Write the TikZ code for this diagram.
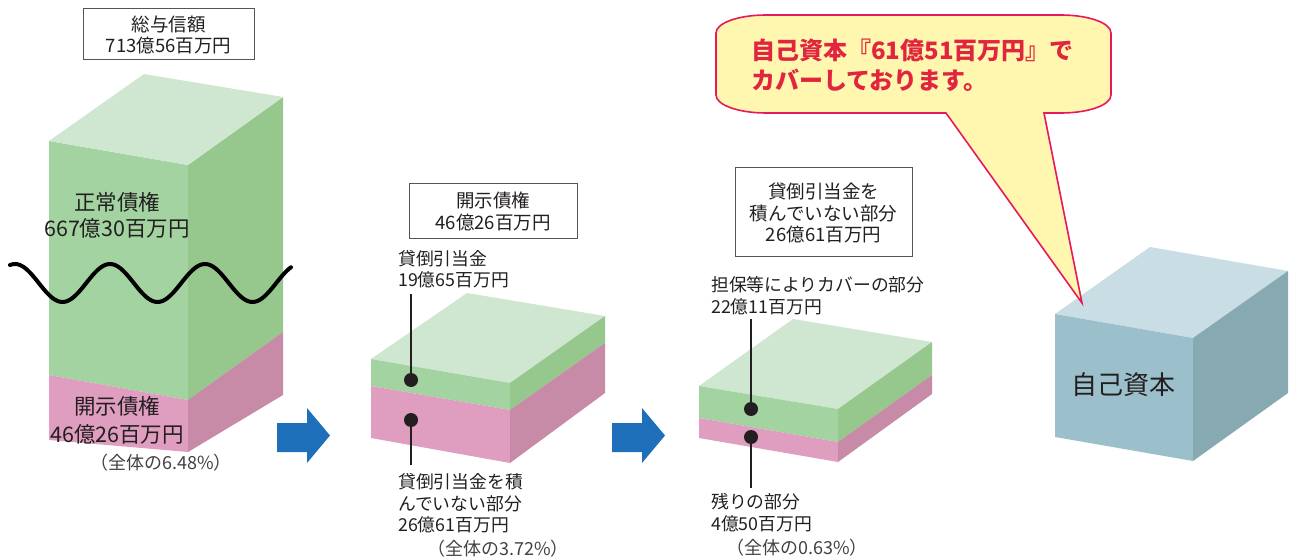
\documentclass[tikz,border=0pt]{standalone}
\usepackage{fontspec}
\setmainfont{Noto Sans CJK JP}
\definecolor{gtopc}{HTML}{CFE7D0}
\definecolor{gfront}{HTML}{A3D3A1}
\definecolor{gright}{HTML}{96C78C}
\definecolor{pfront}{HTML}{DF9EBF}
\definecolor{pright}{HTML}{C78AA7}
\definecolor{btop}{HTML}{C9DEE4}
\definecolor{bfront}{HTML}{9BC0CC}
\definecolor{bright}{HTML}{87A9B1}
\definecolor{ink}{HTML}{231F20}
\definecolor{arrowblue}{HTML}{1E6FB9}
\definecolor{callfill}{HTML}{FFF6B0}
\definecolor{callline}{HTML}{E8185A}
\definecolor{calltext}{HTML}{E2253F}
\definecolor{boxline}{HTML}{555555}
\begin{document}
\begin{tikzpicture}[x=1pt,y=-1pt,
  lbl/.style={font=\fontsize{17.8}{21.5}\selectfont, text=ink, inner sep=0pt, align=left, anchor=west},
  boxtxt/.style={font=\fontsize{18.5}{21.5}\selectfont, text=ink, inner sep=0pt, align=center},
  bigtxt/.style={font=\fontsize{21.5}{26}\selectfont, text=ink, inner sep=0pt, align=center},
  pcttxt/.style={font=\fontsize{18}{20}\selectfont, text=ink!85, inner sep=0pt},
  framebox/.style={draw=boxline, line width=0.9pt, fill=white},
  leader/.style={draw=ink, line width=2pt},
  dotnode/.style={circle, fill=ink, inner sep=0pt, minimum size=14pt},
  bluearrow/.style={fill=arrowblue},
  wave/.style={draw=black, line width=4pt, line cap=round}
]
\useasboundingbox (0,0) rectangle (1299,559);

% ---------- block 1 ----------
\fill[gfront] (49,141) -- (188,165) -- (188,400) -- (49,375) -- cycle;
\fill[gright] (188,165) -- (283,97) -- (283,332) -- (188,400) -- cycle;
\fill[gtopc] (49,141) -- (144,74) -- (283,97) -- (188,165) -- cycle;
\fill[pfront] (49,375) -- (188,400) -- (188,452) -- (49,440) -- cycle;
\fill[pright] (188,400) -- (283,332) -- (283,395) -- (188,452) -- cycle;

\draw[wave] plot[domain=10:291, samples=120, smooth] (\x, {283 - 19*cos((\x-15)/95*360)});

\node[framebox, minimum width=171pt, minimum height=51pt, inner sep=0pt] (box1) at (168.5,33.5) {};
\node[boxtxt] (box1t) at (168.5,35) {総与信額\\713億56百万円};

\node[bigtxt] (normal) at (117,215.5) {正常債権\\667億30百万円};
\node[font=\fontsize{21.5}{27.5}\selectfont, text=ink, inner sep=0pt, align=center] (disc1) at (117,420.5) {開示債権\\46億26百万円};
\node[pcttxt] (pct1) at (161,463) {（全体の6.48\%）};

% ---------- arrows ----------
\fill[bluearrow] (277,423) -- (307,423) -- (307,408) -- (330,435.5) -- (307,463) -- (307,452) -- (277,452) -- cycle;
\fill[bluearrow] (612,423) -- (642,423) -- (642,408) -- (665,435.5) -- (642,463) -- (642,452) -- (612,452) -- cycle;

% ---------- block 2 ----------
\fill[gtopc] (371,359) -- (467,293) -- (605,316) -- (510,383) -- cycle;
\fill[gfront] (371,359) -- (510,383) -- (510,410) -- (371,386) -- cycle;
\fill[gright] (510,383) -- (605,316) -- (605,343) -- (510,410) -- cycle;
\fill[pfront] (371,386) -- (510,410) -- (510,463) -- (371,438) -- cycle;
\fill[pright] (510,410) -- (605,343) -- (605,393) -- (510,463) -- cycle;

\node[framebox, minimum width=168pt, minimum height=55pt, inner sep=0pt] (box2) at (493,210.5) {};
\node[boxtxt] (box2t) at (493,211.5) {開示債権\\46億26百万円};

\node[lbl] (allow) at (398,269) {貸倒引当金\\19億65百万円};
\coordinate (allowend) at (411,294);
\node[dotnode] (dotA) at (411,380) {};
\draw[leader] (allowend) -- (dotA.center);

\node[dotnode] (dotB) at (411,420) {};
\coordinate (unallowend) at (411,465);
\draw[leader] (dotB.center) -- (unallowend);
\node[lbl] (unallow) at (398,503.5) {貸倒引当金を積\\んでいない部分\\26億61百万円};
\node[pcttxt] (pct2) at (498,549) {（全体の3.72\%）};

% ---------- block 3 ----------
\fill[gtopc] (699,386) -- (793,319) -- (932,342) -- (838,409) -- cycle;
\fill[gfront] (699,386) -- (838,409) -- (838,442) -- (699,418) -- cycle;
\fill[gright] (838,409) -- (932,342) -- (932,375) -- (838,442) -- cycle;
\fill[pfront] (699,418) -- (838,442) -- (838,462) -- (699,438) -- cycle;
\fill[pright] (838,442) -- (932,375) -- (932,394) -- (838,462) -- cycle;

\node[framebox, minimum width=177pt, minimum height=89pt, inner sep=0pt] (box3) at (823.5,211.5) {};
\node[boxtxt] (box3t) at (823.5,213) {貸倒引当金を\\積んでいない部分\\26億61百万円};

\node[lbl] (cover) at (711,295.5) {担保等によりカバーの部分\\22億11百万円};
\coordinate (coverend) at (751,319);
\node[dotnode] (dotC) at (751,409) {};
\draw[leader] (coverend) -- (dotC.center);

\node[dotnode] (dotD) at (751,437) {};
\coordinate (restend) at (751,488);
\draw[leader] (dotD.center) -- (restend);
\node[lbl] (rest) at (711,512.5) {残りの部分\\4億50百万円};
\node[pcttxt] (pct3) at (797,548) {（全体の0.63\%）};

% ---------- block 4 ----------
\fill[btop] (1055,314) -- (1150,247) -- (1288,271) -- (1193,338) -- cycle;
\fill[bfront] (1055,314) -- (1193,338) -- (1193,461) -- (1055,437) -- cycle;
\fill[bright] (1193,338) -- (1288,271) -- (1288,393) -- (1193,461) -- cycle;
\node[font=\fontsize{26}{30}\selectfont, text=ink, inner sep=0pt] (equity) at (1123,385) {自己資本};

% ---------- callout ----------
\draw[fill=callfill, draw=callline, line width=1.6pt, line join=miter]
  (946,113) -- (766,113)
  .. controls (738.5,113) and (716,105) .. (716,95)
  -- (716,33)
  .. controls (716,23) and (738.5,15) .. (766,15)
  -- (1061,15)
  .. controls (1088.5,15) and (1111,23) .. (1111,33)
  -- (1111,95)
  .. controls (1111,105) and (1088.5,113) .. (1061,113)
  -- (1044,113) -- (1082,303) -- cycle;
\node[font=\bfseries\fontsize{24}{30}\selectfont, text=calltext, inner sep=0pt, align=left, anchor=west] (calltxt) at (751,65) {自己資本『61億51百万円』で\\カバーしております。};
\end{tikzpicture}
\end{document}
